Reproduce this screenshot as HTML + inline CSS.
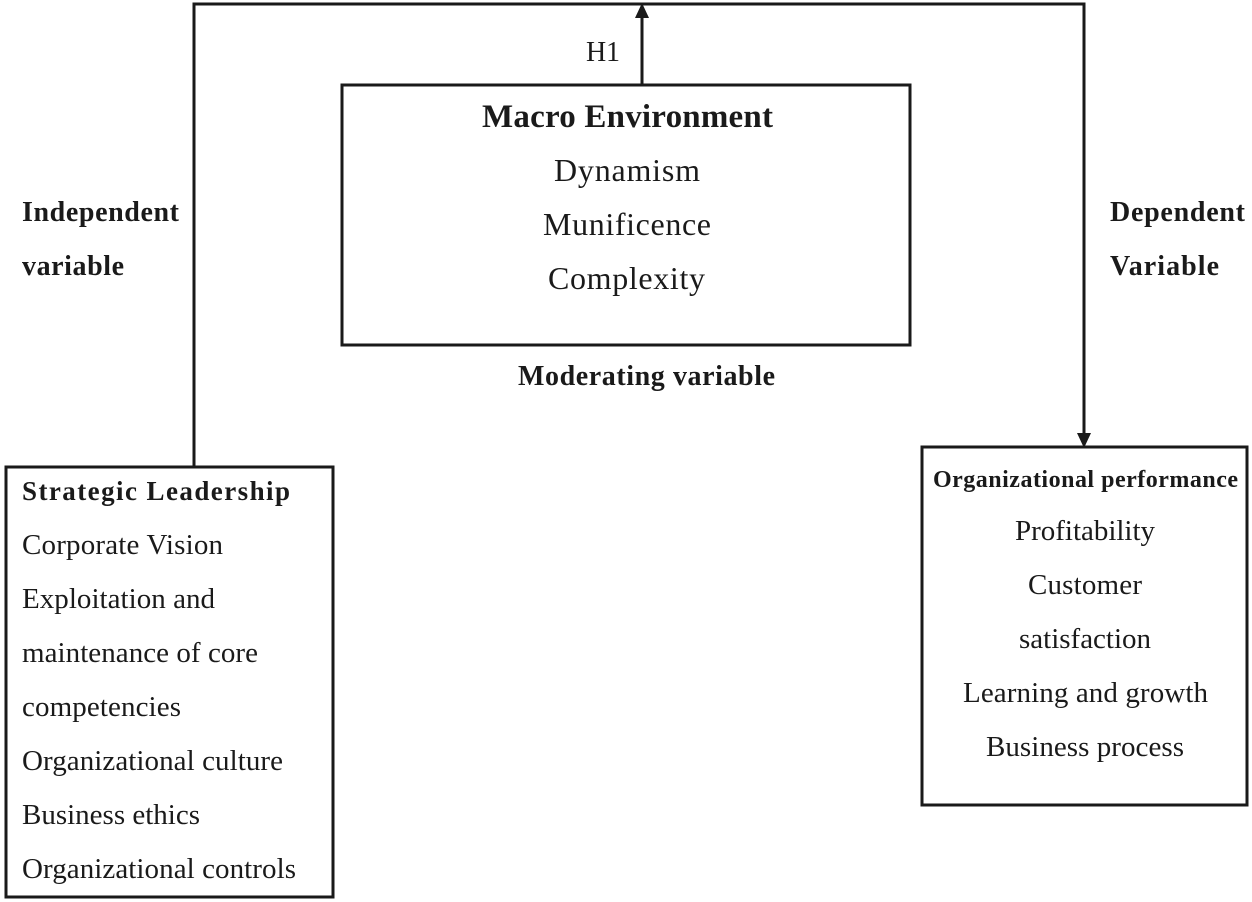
<!DOCTYPE html>
<html><head><style>body{margin:0;background:#fff}svg{display:block}text{font-family:"Liberation Serif",serif;fill:#1a1a1a}</style></head>
<body>
<svg width="1252" height="902" viewBox="0 0 1252 902" xmlns="http://www.w3.org/2000/svg">
<g stroke="#1a1a1a" stroke-width="3" fill="none">
<polyline points="194,467 194,4 1084,4 1084,436"/>
<line x1="642" y1="85" x2="642" y2="16"/>
<rect x="342" y="85" width="568" height="260"/>
<rect x="6" y="467" width="327" height="430"/>
<rect x="922" y="447" width="325" height="358"/>
</g>
<polygon points="642,3 635,18 649,18" fill="#1a1a1a"/>
<polygon points="1084,448 1077,433 1091,433" fill="#1a1a1a"/>
<text x="586" y="61" font-size="28" textLength="34">H1</text>
<g font-size="32">
<text x="482" y="127" font-size="33" font-weight="bold" textLength="291">Macro Environment</text>
<text x="554" y="181" textLength="146">Dynamism</text>
<text x="543" y="235" textLength="168">Munificence</text>
<text x="548" y="289" textLength="157">Complexity</text>
</g>
<text x="518" y="385" font-size="28" font-weight="bold" textLength="257">Moderating variable</text>
<text x="933" y="487" font-size="24" font-weight="bold" textLength="305">Organizational performance</text>
<g font-size="29">
<text x="1015" y="540" textLength="140">Profitability</text>
<text x="1028" y="594" textLength="114">Customer</text>
<text x="1019" y="648" textLength="132">satisfaction</text>
<text x="963" y="702" textLength="245">Learning and growth</text>
<text x="986" y="756" textLength="198">Business process</text>
</g>
<g font-size="28" font-weight="bold">
<text x="22" y="221" textLength="157">Independent</text>
<text x="22" y="275" textLength="102">variable</text>
<text x="1110" y="221" textLength="135">Dependent</text>
<text x="1110" y="275" textLength="109">Variable</text>
</g>
<text x="22" y="500" font-size="27" font-weight="bold" textLength="268">Strategic Leadership</text>
<g font-size="29">
<text x="22" y="554" textLength="201">Corporate Vision</text>
<text x="22" y="608" textLength="193">Exploitation and</text>
<text x="22" y="662" textLength="236">maintenance of core</text>
<text x="22" y="716" textLength="159">competencies</text>
<text x="22" y="770" textLength="261">Organizational culture</text>
<text x="22" y="824" textLength="178">Business ethics</text>
<text x="22" y="878" textLength="274">Organizational controls</text>
</g>
</svg>
</body></html>
